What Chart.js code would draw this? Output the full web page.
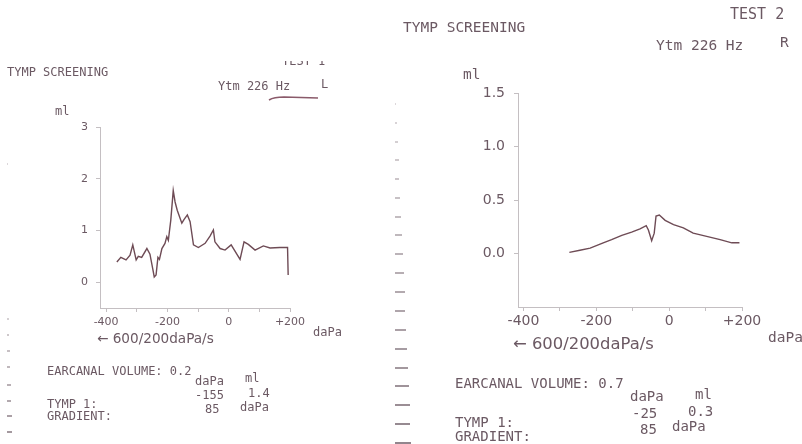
<!DOCTYPE html>
<html>
<head>
<meta charset="utf-8">
<script src="https://cdn.jsdelivr.net/npm/chart.js@4"></script>
<style>
  body { margin: 0; background: #fff; }
  #page { position: relative; width: 802px; height: 444px; overflow: hidden; background: #fff; }
  .t { position: absolute; white-space: nowrap; color: #6b5963; font-family: "DejaVu Sans Mono", monospace; }
  .s { font-family: "DejaVu Sans", sans-serif; }
  canvas { position: absolute; }
  .dash { position: absolute; height: 2px; background: #8a7c84; }
</style>
</head>
<body>
<div id="page">
  <canvas id="leftChart" width="300" height="240" style="left:40px;top:110px"></canvas>
  <canvas id="rightChart" width="340" height="270" style="left:440px;top:70px"></canvas>
  <svg width="802" height="444" style="position:absolute;left:0;top:0">
    <path d="M269 100 Q274 97 284 97 L318 98" stroke="#8a5a6a" stroke-width="1.6" fill="none"/>
  </svg>
</div>
<script>
// test 1 (left ear), pressure in daPa / admittance in ml
const leftPressure = [-365, -352, -335, -322, -313, -302, -295, -284, -267, -257, -248, -243, -237, -231, -226, -218, -208, -202, -197, -189, -181, -175, -168, -153, -146, -135, -126, -115, -99, -77, -61, -50, -45, -28, -12, 8, 37, 50, 64, 86, 113, 135, 167, 192, 194];
const leftVolume = [0.39, 0.48, 0.43, 0.52, 0.72, 0.43, 0.50, 0.48, 0.65, 0.54, 0.26, 0.10, 0.14, 0.48, 0.44, 0.65, 0.75, 0.88, 0.81, 1.20, 1.77, 1.55, 1.39, 1.14, 1.21, 1.30, 1.17, 0.72, 0.67, 0.75, 0.89, 1.01, 0.78, 0.65, 0.62, 0.72, 0.44, 0.78, 0.73, 0.62, 0.70, 0.66, 0.67, 0.67, 0.14];

// test 2 (right ear)
const rightPressure = [-274, -245, -217, -181, -158, -130, -103, -80, -63, -57, -48, -41, -36, -27, -11, 12, 39, 66, 103, 140, 172, 193];
const rightVolume = [0.01, 0.03, 0.05, 0.10, 0.13, 0.17, 0.20, 0.23, 0.26, 0.22, 0.12, 0.19, 0.35, 0.36, 0.31, 0.27, 0.24, 0.19, 0.16, 0.13, 0.10, 0.10];

const xTicks = [-400, -300, -200, -100, 0, 100, 200];
const xTickLabels = ['-400', '', '-200', '', '0', '', '+200'];
const leftYTicks = [0, 1, 2, 3];
const leftYTickLabels = ['0', '1', '2', '3'];
const rightYTicks = [0, 0.5, 1, 1.5];
const rightYTickLabels = ['0.0', '0.5', '1.0', '1.5'];

const ink = '#6b5963';
const axisColor = '#c4bfc2';

function makeChart(id, xs, ys, cfg) {
  const points = xs.map((x, i) => ({ x: x, y: ys[i] }));
  return new Chart(document.getElementById(id), {
    type: 'line',
    data: {
      datasets: [{
        data: points,
        borderColor: '#6e4b55',
        borderWidth: 1.4,
        pointRadius: 0,
        tension: 0
      }]
    },
    options: {
      responsive: false,
      animation: false,
      layout: { padding: cfg.pad },
      plugins: { legend: { display: false }, tooltip: { enabled: false } },
      scales: {
        x: {
          type: 'linear',
          min: cfg.xMin,
          max: 200,
          afterBuildTicks: s => { s.ticks = xTicks.map(v => ({ value: v })); },
          afterFit: s => { s.height = cfg.xHeight; },
          grid: { drawOnChartArea: false, color: axisColor, tickLength: 4 },
          border: { color: axisColor },
          ticks: {
            color: ink,
            padding: cfg.xPad,
            maxRotation: 0,
            autoSkip: false,
            font: { family: 'DejaVu Sans', size: cfg.font },
            callback: (v, i) => xTickLabels[i]
          }
        },
        y: {
          min: cfg.yMin,
          max: cfg.yMax,
          afterBuildTicks: s => { s.ticks = cfg.yTicks.map(v => ({ value: v })); },
          afterFit: s => { s.width = cfg.yWidth; },
          grid: { drawOnChartArea: false, color: axisColor, tickLength: 4 },
          border: { color: axisColor },
          ticks: {
            color: ink,
            padding: cfg.yPad,
            font: { family: 'DejaVu Sans', size: cfg.font },
            callback: (v, i) => cfg.yLabels[i]
          }
        }
      }
    }
  });
}

makeChart('leftChart', leftPressure, leftVolume, {
  xMin: -420, yMin: -0.5, yMax: 3, yTicks: leftYTicks, yLabels: leftYTickLabels,
  pad: { top: 17, right: 50, left: 0, bottom: 0 }, yWidth: 60, xHeight: 42,
  font: 11, xPad: 4, yPad: 8
});

makeChart('rightChart', rightPressure, rightVolume, {
  xMin: -415, yMin: -0.5, yMax: 1.5, yTicks: rightYTicks, yLabels: rightYTickLabels,
  pad: { top: 23, right: 38, left: 0, bottom: 0 }, yWidth: 78, xHeight: 33,
  font: 14, xPad: 2, yPad: 9
});

// printed labels: [text, x, centre y, size, sans?]
const texts = [
  ['TYMP SCREENING', 7, 73, 12],
  ['Ytm 226 Hz', 218, 87, 12],
  ['L', 321, 85, 12],
  ['ml', 55, 112, 12],
  ['daPa', 313, 333, 12],
  ['\u2190 600/200daPa/s', 97, 340, 13.6, true],
  ['EARCANAL VOLUME: 0.2', 47, 372, 12],
  ['daPa', 195, 382, 12],
  ['ml', 245, 379, 12],
  ['-155', 195, 396, 12],
  ['1.4', 248, 394, 12],
  ['TYMP 1:', 47, 405, 12],
  ['85', 205, 410, 12],
  ['daPa', 240, 408, 12],
  ['GRADIENT:', 47, 417, 12],

  ['TYMP SCREENING', 403, 28, 14.5],
  ['TEST 2', 730, 15, 15],
  ['Ytm 226 Hz', 656, 46, 14.5],
  ['R', 780, 43, 14.5],
  ['ml', 463, 75, 14.5],
  ['daPa', 768, 338, 14.5],
  ['\u2190 600/200daPa/s', 513, 345, 16.4, true],
  ['EARCANAL VOLUME: 0.7', 455, 384, 14],
  ['daPa', 630, 397, 14],
  ['ml', 695, 395, 14],
  ['-25', 632, 414, 14],
  ['0.3', 688, 412, 14],
  ['TYMP 1:', 455, 423, 14],
  ['85', 640, 430, 14],
  ['daPa', 672, 427, 14],
  ['GRADIENT:', 455, 437, 14]
];

const page = document.getElementById('page');
texts.forEach(([txt, x, y, size, sans]) => {
  const d = document.createElement('div');
  d.className = sans ? 't s' : 't';
  d.textContent = txt;
  d.style.left = x + 'px';
  d.style.top = (y - size / 2 - 1) + 'px';
  d.style.fontSize = size + 'px';
  d.style.lineHeight = size + 'px';
  page.appendChild(d);
});

// "TEST 1" is cut off at the top of the printout
const clip = document.createElement('div');
clip.style.cssText = 'position:absolute;left:282px;top:61px;width:60px;height:6px;overflow:hidden';
clip.innerHTML = '<div class="t" style="left:0;top:-6px;font-size:12px;line-height:12px">TEST 1</div>';
page.appendChild(clip);

// perforation marks along the paper edges
const midMarks = [103, 122, 141, 159, 178, 197, 216, 234, 253, 272, 291, 310, 329, 348, 367, 385, 404, 423, 442];
midMarks.forEach((y, i) => {
  const d = document.createElement('div');
  d.className = 'dash';
  d.style.left = '395px';
  d.style.top = y + 'px';
  d.style.width = (1 + i * 0.85) + 'px';
  d.style.opacity = 0.3 + i * 0.035;
  page.appendChild(d);
});
const edgeMarks = [163, 318, 334, 350, 366, 384, 400, 415, 431];
edgeMarks.forEach((y, i) => {
  const d = document.createElement('div');
  d.className = 'dash';
  d.style.left = '7px';
  d.style.top = y + 'px';
  d.style.width = (1 + i * 0.5) + 'px';
  d.style.opacity = 0.3 + i * 0.06;
  page.appendChild(d);
});
</script>
</body>
</html>
